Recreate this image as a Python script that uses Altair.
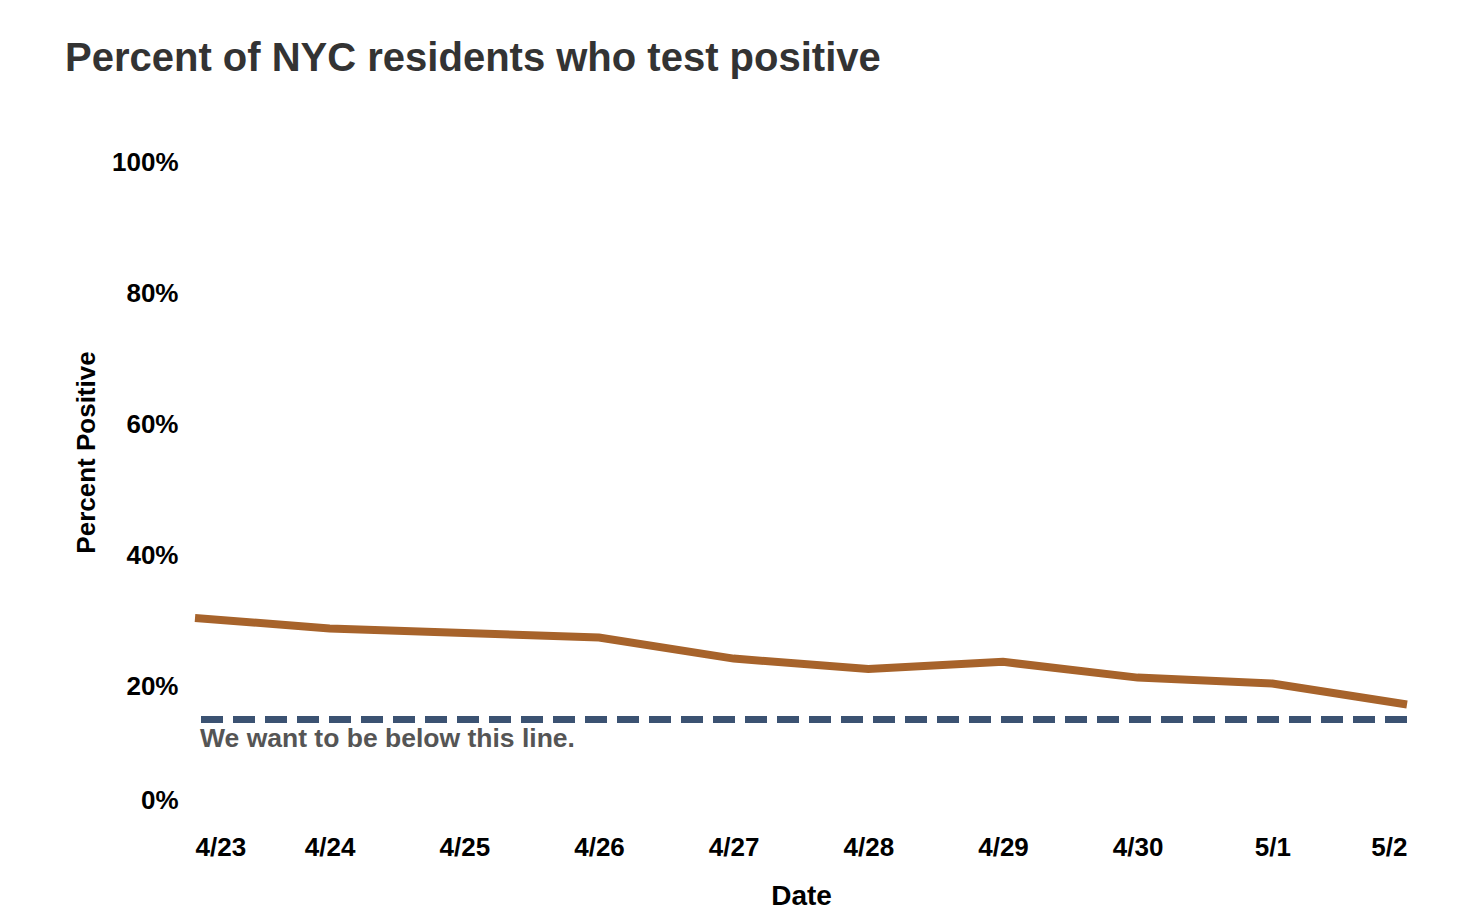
import altair as alt
import pandas as pd

dates = ["4/23", "4/24", "4/25", "4/26", "4/27", "4/28", "4/29", "4/30", "5/1", "5/2"]
percent_positive = [30.5, 28.9, 28.2, 27.5, 24.3, 22.7, 23.8, 21.4, 20.5, 17.3]
target_value = 15
target_label = "We want to be below this line."
y_ticks = [0, 20, 40, 60, 80, 100]

df = pd.DataFrame({"date": dates, "pct": percent_positive})
target_df = pd.DataFrame({"date": [dates[0]], "target": [target_value], "label": [target_label]})
FONT = "Liberation Sans"

x_enc = alt.X(
    "date:O",
    sort=None,
    scale=alt.Scale(type="point", padding=0),
    axis=alt.Axis(
        title="Date", labelAngle=0, labelFlush=True, ticks=False, domain=False,
        labelPadding=16, labelFontSize=26, labelFontWeight="bold", labelColor="#000",
        labelFont=FONT, titleFont=FONT, titleFontSize=28, titleFontWeight="bold",
        titleColor="#000", titleY=78, titleBaseline="middle",
    ),
)
y_enc = alt.Y(
    "pct:Q",
    scale=alt.Scale(domain=[0, 100], nice=False),
    axis=alt.Axis(
        title="Percent Positive", values=y_ticks, grid=False, ticks=False, domain=False,
        labelExpr="datum.value + '%'", labelPadding=17, labelFontSize=26,
        labelFontWeight="bold", labelColor="#000", labelFont=FONT,
        labelOffset={"condition": {"test": "datum.value === 0", "value": -18}, "value": 0},
        titleFont=FONT, titleFontSize=26, titleFontWeight="bold", titleColor="#000",
        titleX=-109, titleY=290, titleAlign="center", titleBaseline="middle",
    ),
)

line = alt.Chart(df).mark_line(color="#a7632b", strokeWidth=8).encode(x=x_enc, y=y_enc)

rule = alt.Chart(target_df).mark_rule(
    color="#3b5272", strokeWidth=7, strokeDash=[22, 10]
).encode(y=alt.Y("target:Q"))

label = alt.Chart(target_df).mark_text(
    align="left", baseline="middle", dx=5, dy=19,
    font=FONT, fontSize=26.5, fontWeight="bold", color="#555"
).encode(x=alt.X("date:O", sort=None), y=alt.Y("target:Q"), text="label:N")

chart = alt.layer(rule, line, label).properties(
    width=1212,
    height=656,
    autosize=alt.AutoSizeParams(type="none"),
    padding={"left": 187, "top": 154, "right": 40, "bottom": 100},
    title=alt.TitleParams(
        "Percent of NYC residents who test positive",
        anchor="start", frame="group", dx=-130, offset=70,
        font=FONT, fontSize=40, fontWeight="bold", color="#333",
    ),
).configure_view(stroke=None)

chart.save("out.html", embed_options={"renderer": "svg", "actions": False})
